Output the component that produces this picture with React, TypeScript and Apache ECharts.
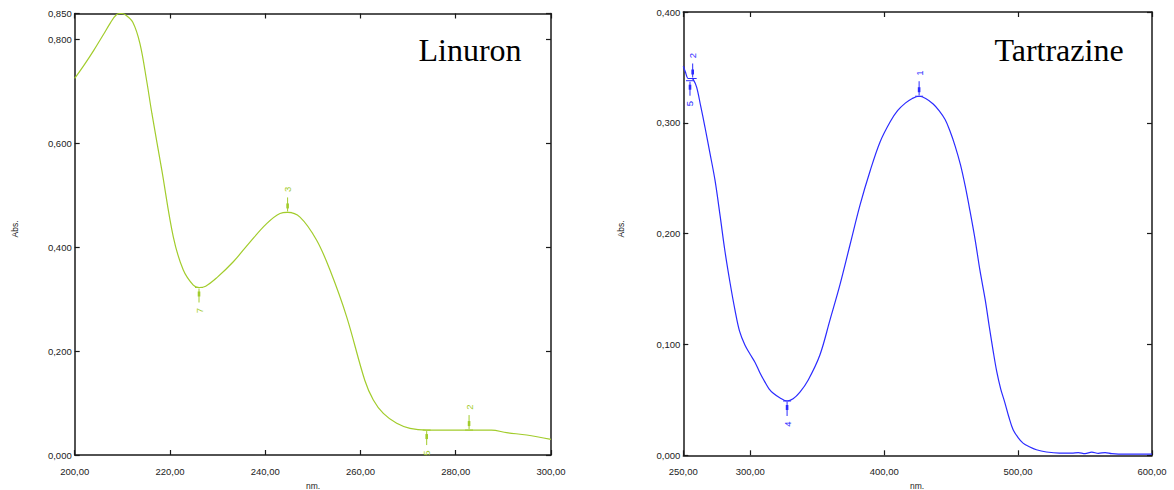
import React, { useEffect, useRef } from "react";
import * as echarts from "echarts";

// Linuron absorption spectrum: [wavelength nm, absorbance]
const linuronSpectrum: [number, number][] = [
  [200, 0.725], [202, 0.751], [204, 0.779], [206, 0.809], [207.5, 0.832],
  [208.7, 0.847], [209.7, 0.85], [210.7, 0.847], [212.2, 0.833], [213.7, 0.792],
  [215.1, 0.721], [216.2, 0.658], [218.3, 0.548], [220.7, 0.42], [222.8, 0.356],
  [224.9, 0.327], [226.1, 0.3225], [227.5, 0.325], [229.8, 0.341], [233.3, 0.372],
  [236.8, 0.41], [240.3, 0.4455], [243.1, 0.465], [244.7, 0.467], [247.3, 0.458],
  [250.8, 0.4135], [253.6, 0.356], [257.1, 0.266], [260.9, 0.144], [262.7, 0.106],
  [264.8, 0.08], [267.6, 0.061], [270.4, 0.0513], [273.9, 0.048], [282.8, 0.048],
  [287.5, 0.048], [290.7, 0.043], [294.9, 0.0385], [300, 0.03],
];

// Tartrazine absorption spectrum: [wavelength nm, absorbance]
const tartrazineSpectrum: [number, number][] = [
  [250, 0.351], [251.5, 0.346], [253.7, 0.34], [256, 0.34], [257.5, 0.339],
  [260, 0.332], [263, 0.315], [266.2, 0.296], [270, 0.272], [273.7, 0.248],
  [277.5, 0.216], [281, 0.185], [285, 0.155], [288.6, 0.131], [292, 0.112],
  [296, 0.0995], [300, 0.091], [303.5, 0.084], [307, 0.075], [311, 0.066],
  [314, 0.06], [317.2, 0.056], [322, 0.052], [327.5, 0.049], [332, 0.051],
  [337.1, 0.057], [343.3, 0.068], [352, 0.0905], [359.5, 0.122], [367, 0.154],
  [374.5, 0.19], [382, 0.226], [389.6, 0.257], [397, 0.283], [404.5, 0.301],
  [410, 0.311], [416, 0.318], [421, 0.322], [426.1, 0.324], [431, 0.322],
  [436.6, 0.317], [441, 0.311], [445.5, 0.303], [449, 0.293], [453, 0.279],
  [457, 0.262], [460.5, 0.243], [464, 0.221], [468, 0.194], [471.5, 0.167],
  [475.5, 0.14], [478.5, 0.116], [481.4, 0.094], [484, 0.076], [487, 0.06],
  [490, 0.048], [493, 0.035], [496.3, 0.023], [500, 0.016], [503.7, 0.011],
  [508, 0.008], [513.7, 0.005], [521.2, 0.003], [531, 0.002], [540, 0.002],
  [545, 0.0025], [550, 0.0015], [555, 0.0028], [560, 0.0018], [565, 0.0025],
  [570, 0.0015], [580, 0.001], [590, 0.001], [600, 0.001],
];

// Peak-pick markers: [nm, absorbance, direction (1 = above curve, -1 = below), label]
const linuronPeaks: [number, number, number, string][] = [
  [244.7, 0.467, 1, "3"],
  [226.1, 0.3225, -1, "7"],
  [282.8, 0.048, 1, "2"],
  [273.9, 0.048, -1, "5"],
];
const tartrazinePeaks: [number, number, number, string][] = [
  [426.1, 0.324, 1, "1"],
  [327.5, 0.049, -1, "4"],
  [257.0, 0.34, 1, "2"],
  [255.0, 0.338, -1, "5"],
];

// Axis ticks and labels
const linuronXTicks = [200, 220, 240, 260, 280, 300];
const linuronYTicks = [0, 0.2, 0.4, 0.6, 0.8, 0.85];
const tartrazineXTicks = [250, 300, 400, 500, 600];
const tartrazineYTicks = [0, 0.1, 0.2, 0.3, 0.4];

const GREEN = "#a2cc2c";
const BLUE = "#2b2bff";
const AXIS = "#1a1a1a";
const LABEL_FONT = "'Liberation Sans', Arial, sans-serif";

const fmtX = (v: number) => v.toFixed(2).replace(".", ",");
const fmtY = (v: number) => v.toFixed(3).replace(".", ",");

function boxAxes(gridIndex: number, min: number, max: number, ticks: number[], fmt: (v: number) => string, kind: "x" | "y") {
  const common = {
    type: "value" as const,
    gridIndex,
    min,
    max,
    splitLine: { show: false },
    axisLine: { show: true, onZero: false, lineStyle: { color: AXIS, width: 1.5 } },
    axisTick: { show: true, inside: true, length: 5, customValues: ticks, lineStyle: { color: AXIS, width: 1.2 } },
  };
  const main = {
    ...common,
    position: kind === "x" ? "bottom" : "left",
    axisLabel: {
      show: true,
      customValues: ticks,
      formatter: fmt,
      color: "#222",
      fontSize: 9.5,
      fontFamily: LABEL_FONT,
      margin: kind === "x" ? 11 : 3,
    },
  };
  const mirror = {
    ...common,
    position: kind === "x" ? "top" : "right",
    axisLabel: { show: false },
  };
  return [main, mirror];
}

function markerSeries(xAxisIndex: number, yAxisIndex: number, peaks: [number, number, number, string][], color: string) {
  return {
    type: "custom",
    xAxisIndex,
    yAxisIndex,
    silent: true,
    clip: false,
    data: peaks.map((p) => [p[0], p[1], p[2]]),
    renderItem: (params: any, api: any) => {
      const pt = api.coord([api.value(0), api.value(1)]);
      const dir = api.value(2);
      const label = peaks[params.dataIndex][3];
      const x = pt[0];
      const y = pt[1];
      return {
        type: "group",
        children: [
          { type: "line", shape: { x1: x - 4, y1: y, x2: x + 4, y2: y }, style: { stroke: color, lineWidth: 1 } },
          { type: "line", shape: { x1: x, y1: y - dir * 1, x2: x, y2: y - dir * 15 }, style: { stroke: color, lineWidth: 1 } },
          { type: "rect", shape: { x: x - 1.3, y: dir > 0 ? y - 9 : y + 4, width: 2.6, height: 5 }, style: { fill: color } },
          {
            type: "text",
            x: x,
            y: y - dir * 23,
            rotation: Math.PI / 2,
            style: { text: label, fill: color, fontSize: 9.5, fontFamily: LABEL_FONT, align: "center", verticalAlign: "middle" },
          },
        ],
      };
    },
  };
}

export default function App() {
  const ref = useRef<HTMLDivElement>(null);

  useEffect(() => {
    document.body.style.margin = "0";
    if (!ref.current) return;
    const chart = echarts.init(ref.current, null, { renderer: "svg" });

    const [lx, lxTop] = boxAxes(0, 200, 300, linuronXTicks, fmtX, "x");
    const [rx, rxTop] = boxAxes(1, 250, 600, tartrazineXTicks, fmtX, "x");
    const [ly, lyRight] = boxAxes(0, 0, 0.85, linuronYTicks, fmtY, "y");
    const [ry, ryRight] = boxAxes(1, 0, 0.4, tartrazineYTicks, fmtY, "y");

    const smallText = { fill: "#222", fontSize: 8.5, fontFamily: LABEL_FONT };
    const titleText = { fill: "#000", fontSize: 32, fontFamily: "'Liberation Serif', 'Times New Roman', serif" };

    chart.setOption({
      animation: false,
      backgroundColor: "#ffffff",
      grid: [
        { left: 74.7, top: 13.5, width: 476.3, height: 441.5 },
        { left: 683.3, top: 12, width: 468.7, height: 443.3 },
      ],
      xAxis: [lx, lxTop, rx, rxTop].map((a, i) => ({ ...a, gridIndex: i < 2 ? 0 : 1 })),
      yAxis: [ly, lyRight, ry, ryRight].map((a, i) => ({ ...a, gridIndex: i < 2 ? 0 : 1 })),
      series: [
        {
          type: "line",
          xAxisIndex: 0,
          yAxisIndex: 0,
          data: linuronSpectrum,
          smooth: 0.35,
          showSymbol: false,
          lineStyle: { color: GREEN, width: 1.2 },
        },
        {
          type: "line",
          xAxisIndex: 2,
          yAxisIndex: 2,
          data: tartrazineSpectrum,
          smooth: 0.35,
          showSymbol: false,
          lineStyle: { color: BLUE, width: 1.2 },
        },
        markerSeries(0, 0, linuronPeaks, GREEN),
        markerSeries(2, 2, tartrazinePeaks, BLUE),
      ],
      graphic: [
        { type: "text", x: 15, y: 229, rotation: Math.PI / 2, style: { ...smallText, text: "Abs.", align: "center", verticalAlign: "middle" } },
        { type: "text", x: 621, y: 229, rotation: Math.PI / 2, style: { ...smallText, text: "Abs.", align: "center", verticalAlign: "middle" } },
        { type: "text", x: 313, y: 486, style: { ...smallText, text: "nm.", align: "center", verticalAlign: "middle" } },
        { type: "text", x: 917, y: 486, style: { ...smallText, text: "nm.", align: "center", verticalAlign: "middle" } },
        { type: "text", x: 470, y: 50, style: { ...titleText, text: "Linuron", align: "center", verticalAlign: "middle" } },
        { type: "text", x: 1059, y: 50, style: { ...titleText, text: "Tartrazine", align: "center", verticalAlign: "middle" } },
      ],
    });

    return () => chart.dispose();
  }, []);

  return <div ref={ref} style={{ width: 1174, height: 490 }} />;
}
